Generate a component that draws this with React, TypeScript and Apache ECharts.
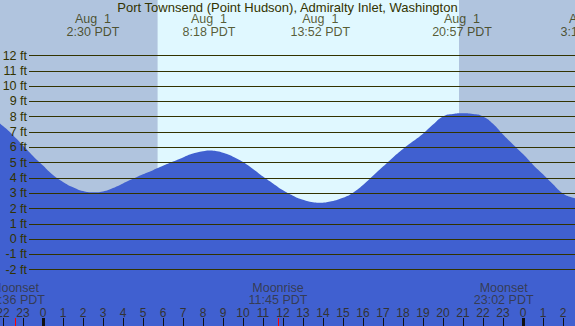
import React, { useEffect, useRef } from "react";
import * as echarts from "echarts";

const chartTitle = "Port Townsend (Point Hudson), Admiralty Inlet, Washington";

// Tide height (ft) read at hours of Aug 1 (negative = Jul 31, >24 = Aug 2)
const tideHours = [-3, -2.5, -2, -1.5, -1, -0.5, 0, 0.5, 1, 1.5, 2, 2.5, 3, 3.5, 4, 4.5, 5, 5.5, 6, 6.5, 7, 7.5, 8, 8.3, 8.7, 9, 9.5, 10, 10.5, 11, 11.5, 12, 12.5, 13, 13.5, 13.87, 14.3, 15, 15.5, 16, 16.5, 17, 17.5, 18, 18.5, 19, 19.5, 20, 20.5, 20.95, 21.5, 22, 22.5, 23, 23.5, 24, 24.5, 25, 25.5, 26, 26.5, 27];
const tideFeet = [8.1, 7.9, 7.4, 6.8, 6.13, 5.45, 4.82, 4.2, 3.75, 3.4, 3.15, 3.07, 3.13, 3.35, 3.65, 3.95, 4.25, 4.52, 4.8, 5.08, 5.35, 5.6, 5.75, 5.8, 5.75, 5.65, 5.4, 5.05, 4.6, 4.1, 3.65, 3.2, 2.85, 2.58, 2.42, 2.39, 2.45, 2.72, 3.05, 3.55, 4.15, 4.75, 5.35, 5.9, 6.4, 6.9, 7.5, 8.03, 8.19, 8.23, 8.19, 8.03, 7.55, 6.85, 6.2, 5.57, 4.88, 4.25, 3.6, 3.0, 2.72, 2.55];

// High / low tide events
const eventHours = [2.5, 8.3, 13.867, 20.95, 27.2];
const eventDates = ["Aug  1", "Aug  1", "Aug  1", "Aug  1", "Aug  2"];
const eventTimes = ["2:30 PDT", "8:18 PDT", "13:52 PDT", "20:57 PDT", "3:12 PDT"];

// Moon events
const moonHours = [-1.4, 11.75, 23.033];
const moonNames = ["Moonset", "Moonrise", "Moonset"];
const moonTimes = ["22:36 PDT", "11:45 PDT", "23:02 PDT"];

// Sun
const sunriseHour = 5.73;
const sunsetHour = 20.8;

// Midnights
const midnightHours = [0, 24];

const FONT = "Liberation Sans";

export default function App() {
  const ref = useRef<HTMLDivElement>(null);
  useEffect(() => {
    if (!ref.current) return;
    const chart = echarts.init(ref.current, null, { renderer: "svg" });
    const xMin = -2.15;
    const xMax = 26.6;
    const option: any = {
      animation: false,
      backgroundColor: "#E0F8FF",
      textStyle: { fontFamily: FONT },
      title: {
        text: chartTitle,
        left: "center",
        top: 1.5,
        padding: 0,
        textStyle: { fontSize: 13, lineHeight: 11, fontWeight: "normal", color: "#333300", fontFamily: FONT },
      },
      grid: [
        { left: 0, right: 0, top: 0, bottom: 0, outerBoundsMode: "none", containLabel: false },
        { left: 29, right: 0, top: 55.5, height: 214.2, outerBoundsMode: "none", containLabel: false },
        { left: 3, right: 12, bottom: 0, height: 8, outerBoundsMode: "none", containLabel: false },
      ],
      xAxis: [
        { type: "value", gridIndex: 0, min: xMin, max: xMax, show: false },
        { type: "value", gridIndex: 1, min: 0, max: 1, show: false },
        {
          type: "value",
          gridIndex: 2,
          min: -2,
          max: 26,
          interval: 1,
          z: 10,
          axisLine: { show: false },
          axisTick: { show: true, inside: true, length: 8, lineStyle: { color: "#111", width: 1 } },
          axisLabel: {
            inside: true,
            margin: 7,
            color: "#333",
            fontSize: 12,
            fontFamily: FONT,
            showMinLabel: true,
            showMaxLabel: true,
            hideOverlap: false,
            formatter: (v: number) => String(((v % 24) + 24) % 24),
          },
          splitLine: { show: false },
        },
      ],
      yAxis: [
        { type: "value", gridIndex: 0, min: -5.667, max: 15.64, show: false },
        {
          type: "value",
          gridIndex: 1,
          min: -2,
          max: 12,
          interval: 1,
          z: 10,
          axisLine: { show: false },
          axisTick: { show: false },
          axisLabel: { formatter: "{value} ft", margin: 2, color: "#333300", fontSize: 12.5, fontFamily: FONT },
          splitLine: { lineStyle: { color: "#333300", width: 1 } },
        },
        { type: "value", gridIndex: 2, min: 0, max: 1, show: false },
      ],
      series: [
        {
          type: "line",
          xAxisIndex: 0,
          yAxisIndex: 0,
          data: [],
          z: 1,
          silent: true,
          markArea: {
            silent: true,
            itemStyle: { color: "#B0C4DE" },
            data: [
              [{ xAxis: xMin }, { xAxis: sunriseHour }],
              [{ xAxis: sunsetHour }, { xAxis: xMax }],
            ],
          },
        },
        {
          type: "line",
          xAxisIndex: 0,
          yAxisIndex: 0,
          z: 2,
          smooth: 0.5,
          symbol: "none",
          silent: true,
          lineStyle: { width: 0 },
          areaStyle: { color: "#4060D0", opacity: 1, origin: "start" },
          data: tideHours.map((h, i) => [h, tideFeet[i]]),
        },
        {
          type: "scatter",
          xAxisIndex: 0,
          yAxisIndex: 0,
          z: 5,
          clip: false,
          symbolSize: 0,
          silent: true,
          label: {
            show: true,
            position: "inside",
            color: "#333300",
            fontSize: 12.5,
            lineHeight: 13,
            fontFamily: FONT,
            formatter: (p: any) => p.data.date + "\n" + p.data.time,
          },
          data: eventHours.map((h, i) => ({ value: [h, 13.95], date: eventDates[i], time: eventTimes[i] })),
        },
        {
          type: "scatter",
          xAxisIndex: 0,
          yAxisIndex: 0,
          z: 5,
          clip: false,
          symbolSize: 0,
          silent: true,
          label: {
            show: true,
            position: "inside",
            color: "#333",
            fontSize: 12.5,
            lineHeight: 12.5,
            fontFamily: FONT,
            formatter: (p: any) => p.data.date + "\n" + p.data.time,
          },
          data: moonHours.map((h, i) => ({ value: [h, -3.57], date: moonNames[i], time: moonTimes[i] })),
        },
        {
          type: "line",
          xAxisIndex: 2,
          yAxisIndex: 2,
          data: [],
          z: 6,
          silent: true,
          markLine: {
            silent: true,
            symbol: "none",
            label: { show: false },
            data: [
              ...midnightHours.map((h) => ({ xAxis: h, lineStyle: { color: "#111", width: 3, type: "solid" } })),
              ...moonHours.map((h) => ({ xAxis: h, lineStyle: { color: "#FF0000", width: 1, type: "solid" } })),
            ],
          },
        },
      ],
    };
    chart.setOption(option);
    return () => chart.dispose();
  }, []);
  return <div ref={ref} style={{ position: "absolute", left: 0, top: 0, width: 575, height: 326 }} />;
}
